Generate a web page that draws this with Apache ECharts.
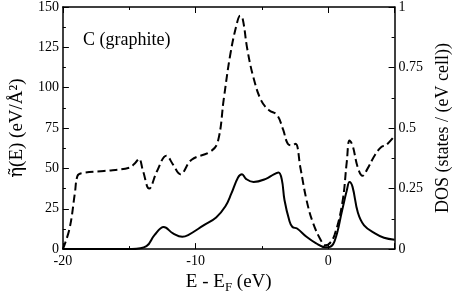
<!DOCTYPE html>
<html>
<head>
<meta charset="utf-8">
<script src="https://cdn.jsdelivr.net/npm/echarts@6/dist/echarts.min.js"></script>
<style>html,body{margin:0;padding:0;background:#fff}#c{width:460px;height:299px}</style>
</head>
<body>
<div id="c"></div>
<script>
// eta~(E) (dashed, left axis)
const etaE = [-20,-19.5,-19.1,-18.9,-18.6,-16.9,-15.0,-14.55,-14.27,-13.96,-13.5,-12.9,-12.2,-11.7,-11.15,-10.3,-8.9,-8.33,-7.86,-7.4,-6.92,-6.64,-6.45,-6.1,-5.63,-5.05,-4.46,-3.87,-3.4,-3.05,-2.7,-2.46,-2.1,-1.64,-1.17,-0.58,-0.23,0,0.47,1.06,1.4,1.6,1.83,2.23,2.58,2.93,3.52,4.0,4.34,5];
const etaV = [0,12.7,34.5,45.4,47,48.4,50.4,53.4,56,48.4,37.5,48.4,57.9,52.4,46.4,55.4,60.3,66.3,94,119.8,138.7,144.6,142.7,123.8,106,92,86,83.2,74,65.3,64.3,65.3,50.4,30.5,16.7,5.8,2.4,2.8,8.7,28.6,54.4,67.3,64.3,50.4,45.4,49.4,58.3,63.3,64.3,70.2];
// DOS (solid, right axis)
const dosE = [-20,-15,-14.8,-13.7,-13.1,-12.4,-11.7,-11.0,-10.56,-9.4,-8.45,-7.75,-7.3,-6.8,-6.5,-6.2,-5.63,-4.7,-4.1,-3.75,-3.5,-3.3,-2.93,-2.7,-2.35,-1.64,-0.94,-0.23,0,0.47,1.06,1.4,1.6,1.83,2.23,2.7,3.52,4.2,5];
const dosV = [0,0,0,0.012,0.058,0.091,0.065,0.051,0.058,0.098,0.131,0.177,0.23,0.296,0.309,0.29,0.277,0.29,0.309,0.316,0.287,0.203,0.117,0.091,0.085,0.051,0.025,0.008,0.008,0.032,0.164,0.243,0.277,0.257,0.151,0.098,0.065,0.047,0.039];
const xTicks = [-20,-10,0];
const leftTicks = [0,25,50,75,100,125,150];
const rightTicks = [0,0.25,0.5,0.75,1];

const F = 'Liberation Serif';
function ax(extra){
  return Object.assign({
    axisLine:{show:true,onZero:false,lineStyle:{color:'#000',width:1.5}},
    axisTick:{show:true,inside:true,length:6,lineStyle:{color:'#000',width:1}},
    minorTick:{show:true,splitNumber:2,length:3,lineStyle:{color:'#000',width:1}},
    splitLine:{show:false},
    axisLabel:{color:'#000',fontFamily:F,fontSize:14,margin:4}
  },extra);
}
const chart = echarts.init(document.getElementById('c'));
chart.setOption({
  animation:false,
  backgroundColor:'#fff',
  title:{text:'C (graphite)',left:78,top:26,textStyle:{fontFamily:F,fontSize:18,fontWeight:'normal',color:'#000'}},
  grid:{left:56,right:50,top:6,bottom:41},
  xAxis:[
    ax({type:'value',position:'bottom',min:xTicks[0],max:5,interval:10,
      axisLabel:{color:'#000',fontFamily:F,fontSize:14,margin:5,showMaxLabel:false},
      name:'E - E{s|F} (eV)',nameLocation:'middle',nameGap:20,
      nameTextStyle:{fontFamily:F,fontSize:19,color:'#000',rich:{s:{fontFamily:F,fontSize:13,padding:[10,0,0,0]}}}}),
    ax({type:'value',position:'top',min:xTicks[0],max:5,interval:10,axisLabel:{show:false}})
  ],
  yAxis:[
    ax({type:'value',min:0,max:150,interval:25,position:'left',
      name:'{e|η̃}(E) (eV/Å²)',nameLocation:'middle',nameGap:34,nameRotate:90,
      nameTextStyle:{fontFamily:F,fontSize:19,color:'#000',rich:{e:{fontFamily:'DejaVu Serif',fontSize:18}}}}),
    ax({type:'value',min:0,max:1,interval:0.25,position:'right',
      name:'DOS (states / (eV cell))',nameLocation:'middle',nameGap:36,nameRotate:90,
      nameTextStyle:{fontFamily:F,fontSize:18,color:'#000'}})
  ],
  series:[
    {type:'line',xAxisIndex:0,yAxisIndex:0,data:etaE.map((e,i)=>[e,etaV[i]]),showSymbol:false,smooth:0.4,
      lineStyle:{color:'#000',width:2,type:[8,4]}},
    {type:'line',xAxisIndex:0,yAxisIndex:1,data:dosE.map((e,i)=>[e,dosV[i]]),showSymbol:false,smooth:0.4,
      lineStyle:{color:'#000',width:2}}
  ]
});
</script>
</body>
</html>
